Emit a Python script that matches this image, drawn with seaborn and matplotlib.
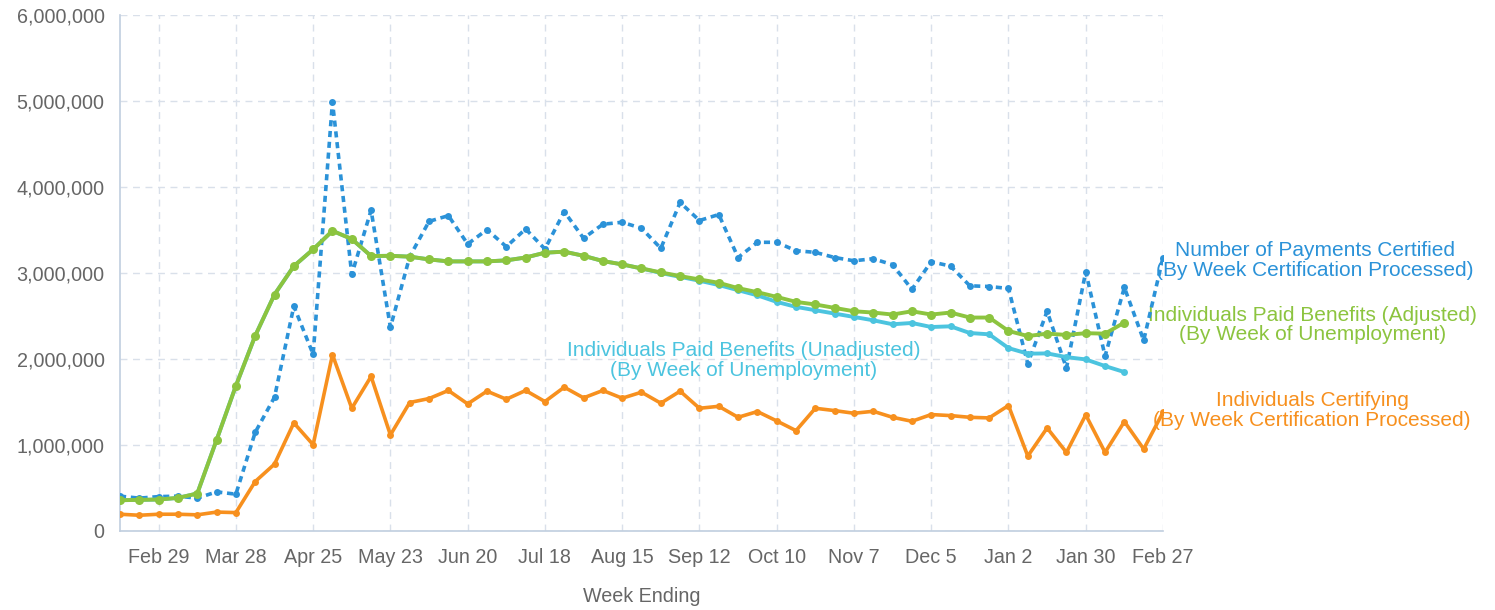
import matplotlib
matplotlib.use("Agg")
import matplotlib.pyplot as plt
import matplotlib.ticker as mticker
import seaborn as sns
import pandas as pd

# weekly data, week ending Feb 15 2020 .. Feb 27 2021
weeks = pd.date_range("2020-02-15", "2021-02-27", freq="7D")

certifying = [195000, 183000, 195000, 195000, 188000, 220000, 214000, 575000, 778000, 1257000,
              1003000, 2050000, 1427000, 1797000, 1117000, 1494000, 1540000, 1634000, 1478000, 1626000,
              1532000, 1634000, 1505000, 1672000, 1548000, 1634000, 1544000, 1614000, 1486000, 1626000,
              1427000, 1450000, 1322000, 1389000, 1280000, 1167000, 1427000, 1400000, 1369000, 1392000,
              1322000, 1276000, 1354000, 1342000, 1322000, 1315000, 1459000, 871000, 1198000, 914000,
              1350000, 914000, 1272000, 953000, 1380000]

payments = [405000, 382000, 400000, 405000, 382000, 455000, 428000, 1147000, 1556000, 2614000,
            2054000, 4990000, 2983000, 3730000, 2369000, 3190000, 3600000, 3667000, 3337000, 3504000,
            3306000, 3512000, 3279000, 3714000, 3404000, 3567000, 3590000, 3520000, 3287000, 3820000,
            3610000, 3680000, 3180000, 3357000, 3357000, 3259000, 3240000, 3180000, 3142000, 3166000,
            3096000, 2810000, 3131000, 3080000, 2851000, 2843000, 2820000, 1945000, 2555000, 1894000,
            3014000, 2034000, 2832000, 2217000, 3178000]

paid_adjusted = [358000, 362000, 366000, 385000, 436000, 1058000, 1688000, 2270000, 2750000, 3080000,
                 3275000, 3490000, 3395000, 3197000, 3200000, 3190000, 3158000, 3135000, 3135000, 3135000,
                 3147000, 3180000, 3236000, 3248000, 3200000, 3139000, 3100000, 3053000, 3007000, 2964000,
                 2925000, 2886000, 2824000, 2777000, 2722000, 2664000, 2634000, 2594000, 2555000, 2540000,
                 2517000, 2555000, 2517000, 2540000, 2482000, 2482000, 2326000, 2267000, 2295000, 2280000,
                 2300000, 2295000, 2424000]

paid_unadjusted = [358000, 362000, 366000, 385000, 436000, 1058000, 1688000, 2270000, 2750000, 3080000,
                   3275000, 3490000, 3395000, 3197000, 3200000, 3190000, 3158000, 3135000, 3135000, 3135000,
                   3147000, 3180000, 3236000, 3248000, 3200000, 3139000, 3100000, 3053000, 3000000, 2955000,
                   2910000, 2860000, 2800000, 2740000, 2664000, 2606000, 2567000, 2528000, 2489000, 2450000,
                   2404000, 2419000, 2372000, 2380000, 2302000, 2287000, 2127000, 2062000, 2065000, 2022000,
                   1995000, 1918000, 1848000]

c_blue = "#2b92d8"
c_green = "#8cc43f"
c_cyan = "#4cc4df"
c_orange = "#f7901e"
c_axis = "#c0cedf"
c_grid = "#d9e0ea"
c_text = "#666666"

sns.set_style("white")
plt.rcParams["font.family"] = ["Liberation Sans", "DejaVu Sans"]

fig = plt.figure(figsize=(14.95, 6.10), dpi=100)
ax = fig.add_axes([120 / 1495, 1 - 531 / 610, 1043 / 1495, 516 / 610])

sns.lineplot(x=weeks, y=certifying, ax=ax, color=c_orange, lw=2.6,
             marker="o", markersize=5, markeredgewidth=0, zorder=3)
sns.lineplot(x=weeks, y=payments, ax=ax, color=c_blue, lw=2.6,
             marker="o", markersize=5, markeredgewidth=0, zorder=4)
ax.lines[-1].set_dashes([1.7, 1.3])
sns.lineplot(x=weeks[:len(paid_unadjusted)], y=paid_unadjusted, ax=ax, color=c_cyan, lw=2.8,
             marker="o", markersize=5, markeredgewidth=0, zorder=5)
sns.lineplot(x=weeks[:len(paid_adjusted)], y=paid_adjusted, ax=ax, color=c_green, lw=2.8,
             marker="o", markersize=6.5, markeredgewidth=0, zorder=6)

ax.set_xlim(weeks[0], weeks[-1])
ax.set_ylim(0, 6000000)

# axes styling
for s in ["top", "right"]:
    ax.spines[s].set_visible(False)
for s in ["left", "bottom"]:
    ax.spines[s].set_color(c_axis)
    ax.spines[s].set_linewidth(1.2)

major = weeks[2::4]
ax.set_xticks(major)
ax.set_xticklabels([f"{d:%b} {d.day}" for d in major])
ax.set_xticks(weeks, minor=True)
ax.set_yticks(range(0, 6000001, 1000000))
ax.yaxis.set_major_formatter(mticker.FuncFormatter(lambda v, p: f"{int(v):,}"))

ax.tick_params(axis="x", which="major", direction="out", length=8, width=1, color=c_axis,
               labelsize=14.2, labelcolor=c_text, pad=4)
ax.tick_params(axis="x", which="minor", direction="out", length=5, width=1, color=c_axis)
ax.tick_params(axis="y", direction="out", length=9, width=1, color=c_axis,
               labelsize=14.2, labelcolor=c_text, pad=2)

ax.grid(True, axis="both", which="major", color=c_grid, linestyle=(0, (5, 4)), linewidth=1)
ax.set_axisbelow(True)

ax.set_xlabel("Week Ending", fontsize=14.2, color=c_text, labelpad=15)
ax.set_ylabel("")

# series labels
lab = dict(transform=ax.transAxes, ha="center", va="center", fontsize=15,
           linespacing=1.05, clip_on=False)
ax.text(1.1457, 0.524, "Number of Payments Certified\n(By Week Certification Processed)",
        color=c_blue, **lab)
ax.text(1.1430, 0.399, "Individuals Paid Benefits (Adjusted)\n(By Week of Unemployment)",
        color=c_green, **lab)
ax.text(1.1430, 0.2335, "Individuals Certifying\n(By Week Certification Processed)",
        color=c_orange, **lab)
ax.text(0.598, 0.330, "Individuals Paid Benefits (Unadjusted)\n(By Week of Unemployment)",
        color=c_cyan, **lab)

fig.savefig("out.png", dpi=100)
